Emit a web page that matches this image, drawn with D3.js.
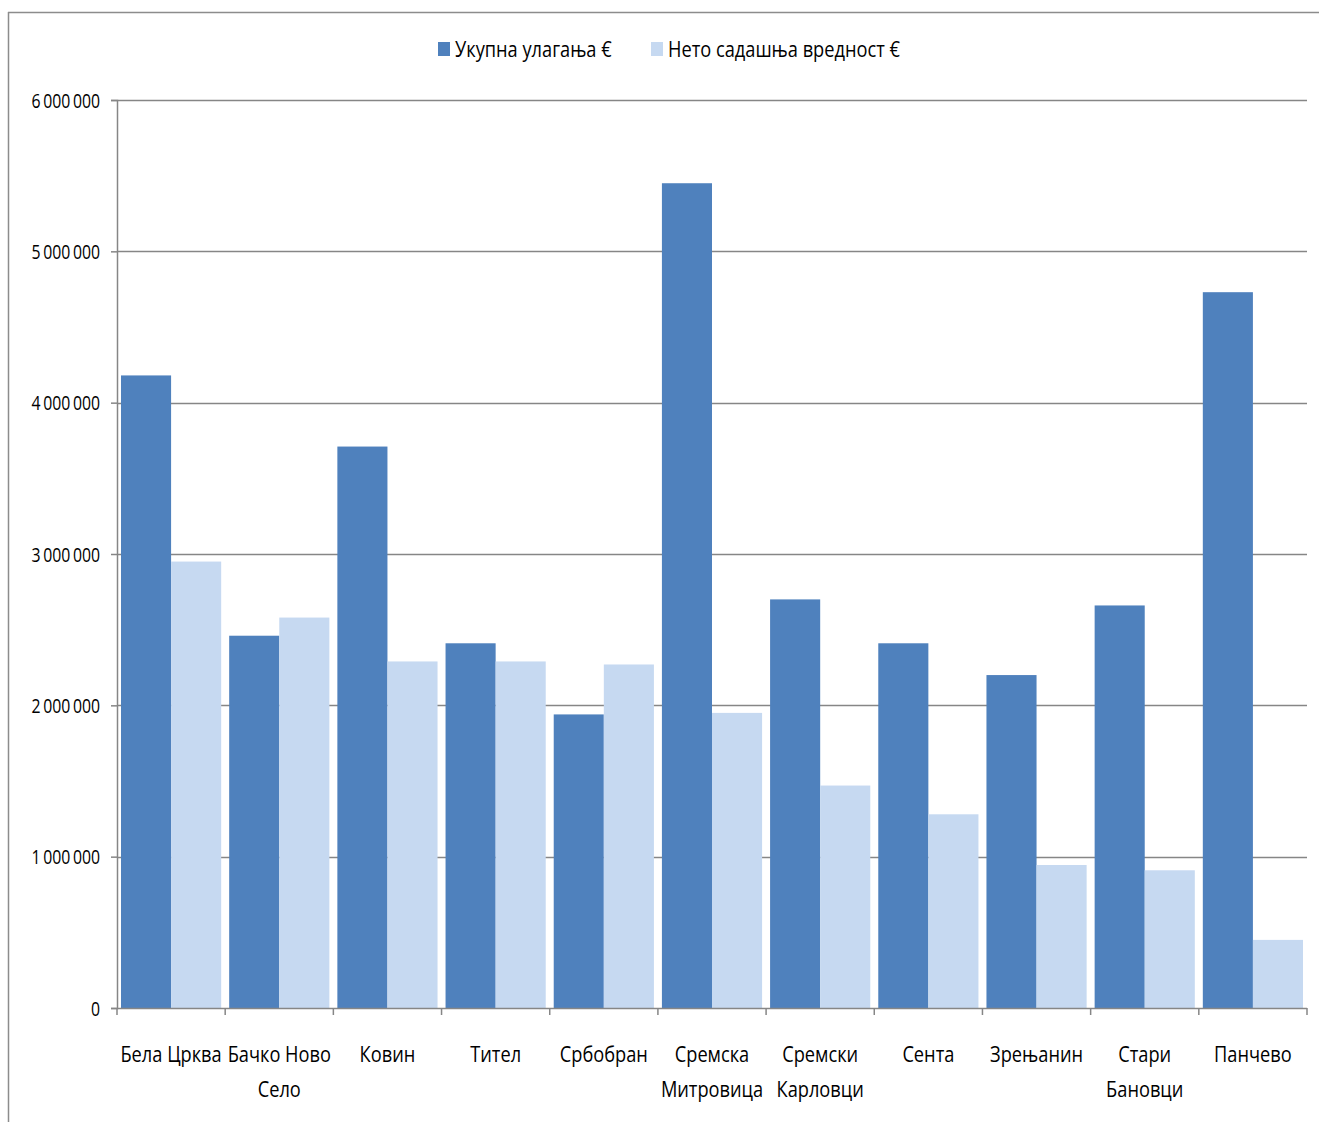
<!DOCTYPE html>
<html>
<head>
<meta charset="utf-8">
<script src="https://cdn.jsdelivr.net/npm/d3@7"></script>
<style>
  html, body { margin: 0; padding: 0; background: #fff; }
  svg { display: block; }
  text { font-family: "Open Sans", "Noto Sans", sans-serif; fill: #000; }
</style>
</head>
<body>
<script>
const categories = [
  ["Бела Црква"],
  ["Бачко Ново", "Село"],
  ["Ковин"],
  ["Тител"],
  ["Србобран"],
  ["Сремска", "Митровица"],
  ["Сремски", "Карловци"],
  ["Сента"],
  ["Зрењанин"],
  ["Стари", "Бановци"],
  ["Панчево"]
];
const seriesNames = ["Укупна улагања €", "Нето садашња вредност €"];
const totalInvestment = [4180000, 2460000, 3710000, 2410000, 1940000, 5450000, 2700000, 2410000, 2200000, 2660000, 4730000];
const netPresentValue = [2950000, 2580000, 2290000, 2290000, 2270000, 1950000, 1470000, 1280000, 945000, 910000, 450000];
const yTicks = [0, 1000000, 2000000, 3000000, 4000000, 5000000, 6000000];
const colors = ["#4F81BD", "#C6D9F1"];

const W = 1319, H = 1122;
const m = { left: 117, right: 1307, top: 100, bottom: 1008 };
const SX = 0.81; // horizontal condensing of text

const svg = d3.select("body").append("svg").attr("width", W).attr("height", H);

// outer chart border (top and left visible)
svg.append("line").attr("x1", 8).attr("x2", W + 5).attr("y1", 12.5).attr("y2", 12.5)
  .attr("stroke", "#8c8c8c").attr("stroke-width", 1.5);
svg.append("line").attr("x1", 8.5).attr("x2", 8.5).attr("y1", 12).attr("y2", H + 5)
  .attr("stroke", "#8c8c8c").attr("stroke-width", 1.5);

const y = d3.scaleLinear().domain([0, 6000000]).range([m.bottom, m.top]);
const x0 = d3.scaleBand().domain(d3.range(categories.length)).range([m.left, m.right]).padding(0);
const x1 = d3.scaleBand().domain([0, 1]).range([4, x0.bandwidth() - 4]).padding(0);

const fmt = v => d3.format(",")(v).replace(/,/g, "\u2009");

// gridlines
svg.append("g").selectAll("line").data(yTicks.filter(d => d > 0)).join("line")
  .attr("x1", m.left).attr("x2", m.right)
  .attr("y1", d => Math.round(y(d)) + 0.5).attr("y2", d => Math.round(y(d)) + 0.5)
  .attr("stroke", "#868686").attr("stroke-width", 1.5);

// bars
const groups = svg.append("g").selectAll("g").data(categories).join("g")
  .attr("transform", (d, i) => `translate(${x0(i)},0)`);
groups.selectAll("rect").data((d, i) => [totalInvestment[i], netPresentValue[i]]).join("rect")
  .attr("x", (d, j) => x1(j))
  .attr("width", x1.bandwidth())
  .attr("y", d => y(d))
  .attr("height", d => y(0) - y(d))
  .attr("fill", (d, j) => colors[j]);

// y axis
const yAxis = d3.axisLeft(y).tickValues(yTicks).tickSize(6).tickPadding(10).tickFormat(fmt);
const ya = svg.append("g").attr("transform", `translate(${m.left},0)`).call(yAxis);
ya.select(".domain").attr("stroke", "#868686").attr("stroke-width", 1.5);
ya.selectAll(".tick line").attr("stroke", "#868686").attr("stroke-width", 1.5);
ya.selectAll(".tick text")
  .attr("font-family", null).attr("font-size", null)
  .style("font-size", "19.5px")
  .attr("x", 0).attr("dy", "0.36em")
  .attr("transform", `translate(-17,0) scale(${SX},1)`);

// x axis
const xEdge = d3.scaleLinear().domain([0, categories.length]).range([m.left, m.right]);
const xa = svg.append("g");
xa.append("line").attr("x1", m.left).attr("x2", m.right).attr("y1", m.bottom + 0.5).attr("y2", m.bottom + 0.5)
  .attr("stroke", "#868686").attr("stroke-width", 1.5);
xa.selectAll("line.tk").data(d3.range(categories.length + 1)).join("line").attr("class", "tk")
  .attr("x1", d => xEdge(d)).attr("x2", d => xEdge(d))
  .attr("y1", m.bottom).attr("y2", m.bottom + 7)
  .attr("stroke", "#868686").attr("stroke-width", 1.5);
const labels = xa.selectAll("text.lbl").data(categories).join("text").attr("class", "lbl")
  .attr("text-anchor", "middle")
  .attr("transform", (d, i) => `translate(${x0(i) + x0.bandwidth() / 2},1062) scale(${SX},1)`)
  .style("font-size", "22.5px");
labels.selectAll("tspan").data(d => d).join("tspan")
  .attr("x", 0)
  .attr("dy", (d, k) => k === 0 ? 0 : 35)
  .text(d => d);

// legend
const legendItems = [{ x: 438, tx: 455 }, { x: 651, tx: 668 }];
const lg = svg.append("g");
lg.selectAll("rect").data(seriesNames).join("rect")
  .attr("x", (d, i) => legendItems[i].x).attr("y", 42).attr("width", 12).attr("height", 14)
  .attr("fill", (d, i) => colors[i]);
lg.selectAll("text").data(seriesNames).join("text")
  .attr("transform", (d, i) => `translate(${legendItems[i].tx},57) scale(${SX},1)`)
  .style("font-size", "22.5px")
  .text(d => d);
</script>
</body>
</html>
